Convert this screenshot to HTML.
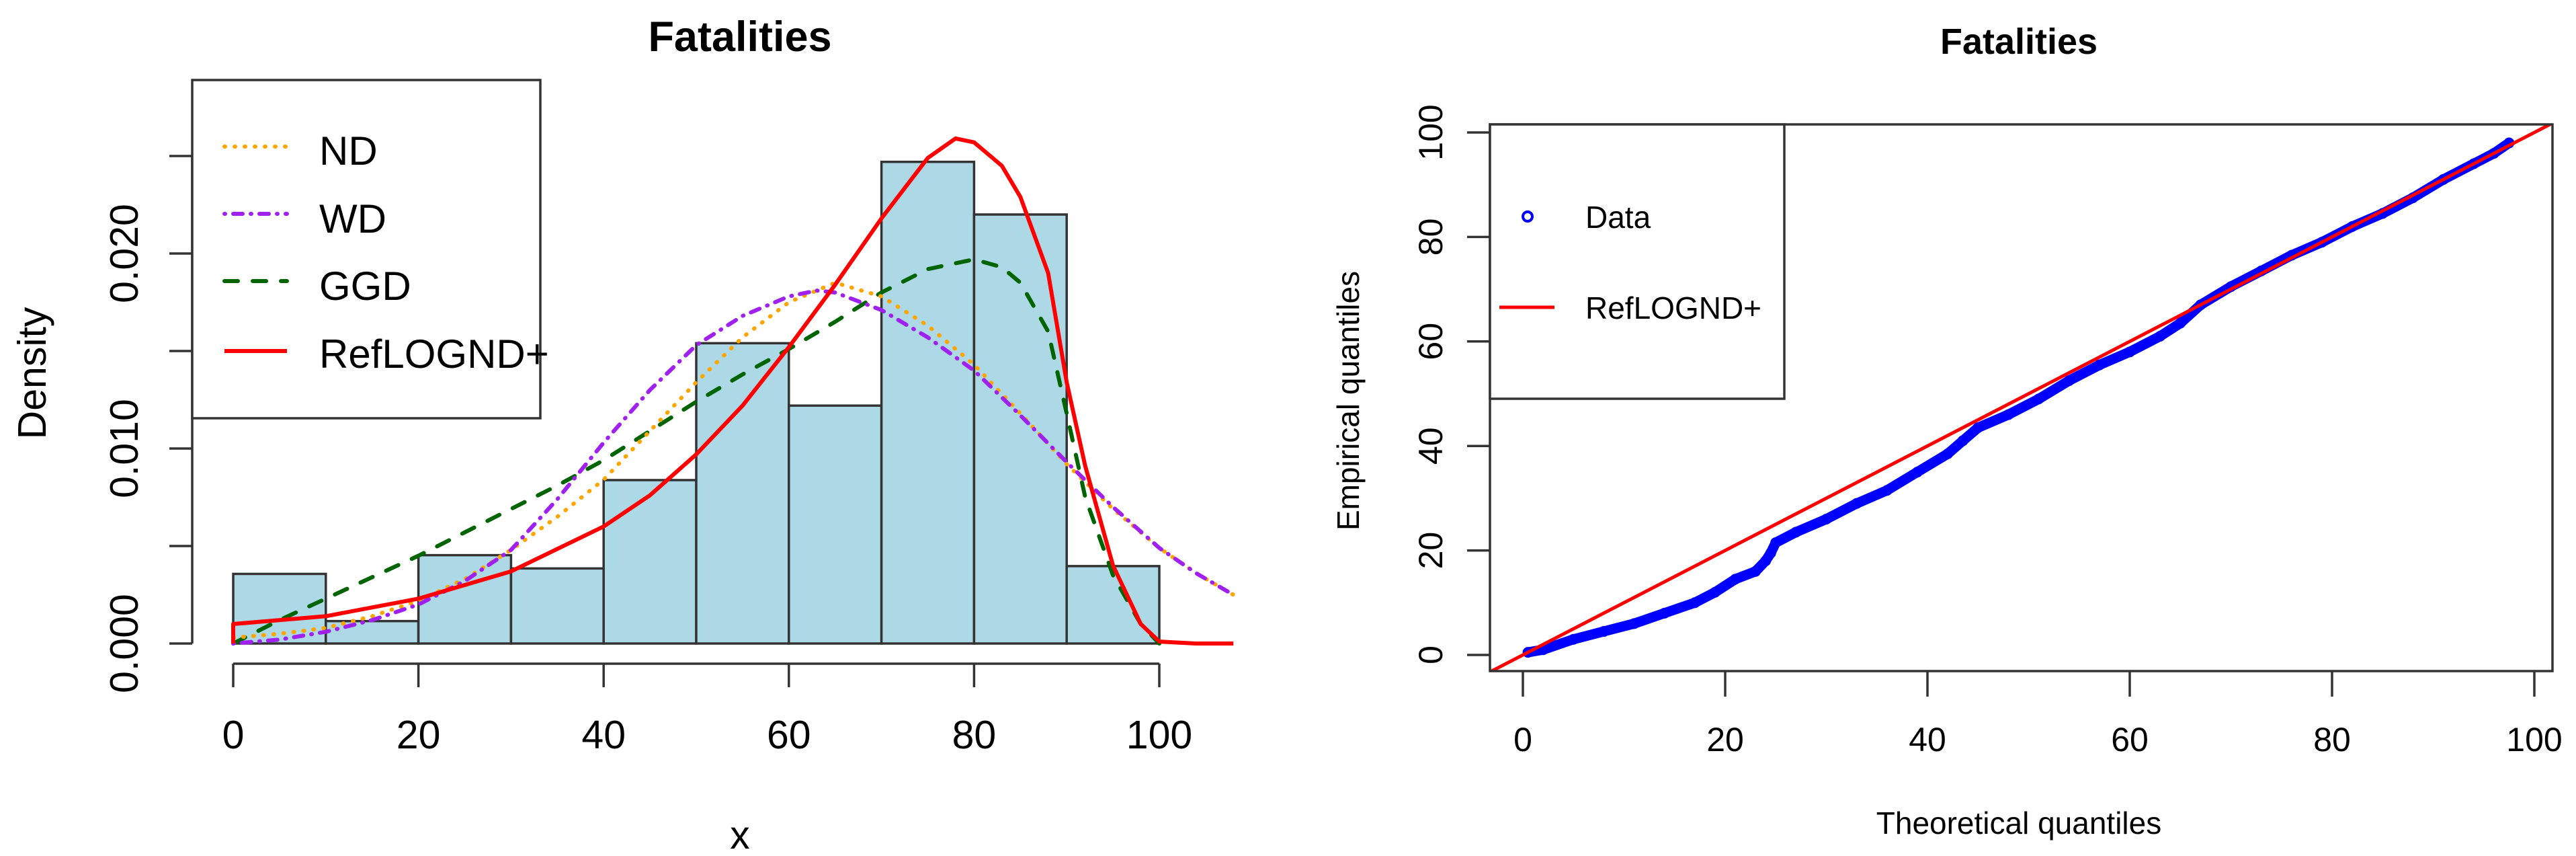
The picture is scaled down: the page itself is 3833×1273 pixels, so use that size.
<!DOCTYPE html>
<html><head><meta charset="utf-8"><style>
html,body{margin:0;padding:0;background:#fff}
svg{display:block}
text{font-family:"Liberation Sans",Arial,sans-serif;fill:#000}
</style></head><body>
<svg id="root" width="3833" height="1273" viewBox="0 0 3833 1273" xmlns="http://www.w3.org/2000/svg">
<g id="left"></g>
<g id="right"></g>
</svg>
<script>
// ---------- Left chart data ----------
const binStarts = [0,10,20,30,40,50,60,70,80,90];
const binDensity = [0.00357,0.00115,0.00453,0.00385,0.00838,0.0154,0.0122,0.0247,0.0220,0.00397];
const xTicks = [0,20,40,60,80,100];
const yTicks = [0,0.005,0.010,0.015,0.020,0.025];
const yTickLabels = ["0.000","","0.010","","0.020",""];
const ndX = [0,5,10,15,20,25,30,35,40,45,50,55,60,65,70,75,80,85,90,95,100,104,108];
const ndY = [0.0003,0.0005,0.0008,0.0014,0.0022,0.0033,0.0048,0.0065,0.0084,0.0109,0.0134,0.0157,0.0175,0.0185,0.0178,0.0163,0.0143,0.0118,0.0092,0.0069,0.0049,0.0036,0.0025];
const wdX = [0,5,10,15,20,25,30,35,40,45,50,55,60,63,65,70,75,80,85,90,95,100,104,108];
const wdY = [0.0,0.0002,0.0006,0.0012,0.0020,0.0032,0.0048,0.0074,0.0103,0.0130,0.0153,0.0168,0.0178,0.0181,0.0180,0.0171,0.0157,0.0140,0.0117,0.0093,0.0070,0.0049,0.0036,0.0025];
const ggdX = [0,5,10,15,20,25,30,35,40,45,50,55,60,65,70,75,80,83,85,88,90,92,95,98,100];
const ggdY = [0.0,0.0012,0.0023,0.0034,0.0045,0.0057,0.0069,0.0081,0.0094,0.0109,0.0124,0.0138,0.0151,0.0165,0.0180,0.0192,0.0197,0.0193,0.0185,0.0160,0.0118,0.0075,0.0035,0.0010,0.0];
const refX = [0,0,10,20,30,40,45,50,55,60,65,70,75,78,80,83,85,88,90,92,95,98,100,104,108];
const refY = [0,0.0010,0.0014,0.0023,0.0037,0.0060,0.0076,0.0097,0.0122,0.0152,0.0184,0.0218,0.0249,0.0259,0.0257,0.0245,0.0229,0.0190,0.0134,0.0091,0.0040,0.0010,0.0001,0,0];
// ---------- Right chart data ----------
const qTheo = [0.5,2,5,8,11,14,17,19,21,23,24,24.5,25,27,30,33,36,39,42,43.5,45,48,51,54,57,60,63,65,67,70,73,76,79,82,85,88,91,94,96,97.5];
const qEmp  = [0.5,1,3,4.5,6,8,10,12,14.5,16,18,19.5,21.5,23.5,26,29,31.5,35,38.5,41,43.5,46,49,52.5,55.5,58,61,63.5,67,70.5,73.5,76.5,79,82,84.5,87.5,91,94,96,98];
const qTicks = [0,20,40,60,80,100];

const NS="http://www.w3.org/2000/svg";
function mk(parent,tag,attrs,text){const e=document.createElementNS(NS,tag);for(const k in attrs)e.setAttribute(k,attrs[k]);if(text!==undefined)e.textContent=text;parent.appendChild(e);return e;}

// ----- Left -----
const L=document.getElementById('left');
const lx=v=>347+v*13.78;
const ly=v=>957-v*29000;
let t;
t=mk(L,'text',{x:1101,y:76,'font-size':63,'font-weight':'bold','text-anchor':'middle'},'Fatalities');


binStarts.forEach((b,i)=>{
  const r=mk(L,'rect',{x:lx(b),y:ly(binDensity[i]),width:lx(b+10)-lx(b),height:ly(0)-ly(binDensity[i]),fill:'#add8e6',stroke:'#333','stroke-width':3.5});
  
  
});
function curve(xs,ys,color,dash,name){
  const d=xs.map((x,i)=>(i?'L':'M')+lx(x).toFixed(1)+','+ly(ys[i]).toFixed(1)).join(' ');
  const p=mk(L,'path',{d:d,fill:'none',stroke:color,'stroke-width':6,'stroke-dasharray':dash,'stroke-linecap':dash==='none'?'butt':'round','stroke-linejoin':'round'});
  
  
}
curve(ggdX,ggdY,'#006400','20 22','ggd-curve');
curve(ndX,ndY,'#ffa500','1 14','nd-curve');
curve(wdX,wdY,'#a020f0','1 12 14 12','wd-curve');
curve(refX,refY,'#ff0000','none','reflognd-curve');
// x axis
t=mk(L,'line',{x1:lx(0),y1:987,x2:lx(100),y2:987,stroke:'#333','stroke-width':3.5});


xTicks.forEach(v=>{
  const tk=mk(L,'line',{x1:lx(v),y1:987,x2:lx(v),y2:1022,stroke:'#333','stroke-width':3.5});
  
  
  const tl=mk(L,'text',{x:lx(v),y:1113,'font-size':59,'text-anchor':'middle'},String(v));
  
  
});
// y axis
t=mk(L,'line',{x1:286,y1:ly(0),x2:286,y2:ly(0.025),stroke:'#333','stroke-width':3.5});


yTicks.forEach((v,i)=>{
  const tk=mk(L,'line',{x1:252,y1:ly(v),x2:286,y2:ly(v),stroke:'#333','stroke-width':3.5});
  
  
  if(yTickLabels[i]){
    const tl=mk(L,'text',{x:0,y:0,'font-size':59,'text-anchor':'middle',transform:`translate(205,${ly(v)}) rotate(-90)`},yTickLabels[i]);
    
    
  }
});
t=mk(L,'text',{x:0,y:0,'font-size':59,'text-anchor':'middle',transform:'translate(68,555) rotate(-90)'},'Density');


t=mk(L,'text',{x:1101,y:1262,'font-size':59,'text-anchor':'middle'},'x');


// legend
const lg=mk(L,'g',{});


mk(lg,'rect',{x:286,y:119,width:518,height:503,fill:'#fff',stroke:'#333','stroke-width':3.5});
const legItems=[['ND','#ffa500','1 14',218,245],['WD','#a020f0','1 12 14 12',318,346],['GGD','#006400','20 22',418,446],['RefLOGND+','#ff0000','none',522,547]];
legItems.forEach(it=>{
  const ln=mk(lg,'line',{x1:334,y1:it[3],x2:427,y2:it[3],stroke:it[1],'stroke-width':6,'stroke-dasharray':it[2],'stroke-linecap':it[2]==='none'?'butt':'round'});
  
  
  const tx=mk(lg,'text',{x:475,y:it[4],'font-size':60},it[0]);
  
  
});

// ----- Right -----
const R=document.getElementById('right');
const rx=v=>2266+v*15.05;
const ry=v=>974-v*7.77;
t=mk(R,'text',{x:3004,y:80,'font-size':54,'font-weight':'bold','text-anchor':'middle'},'Fatalities');


// points
const ptsPath=qTheo.map((x,i)=>(i?'L':'M')+rx(x).toFixed(1)+','+ry(qEmp[i]).toFixed(1)).join(' ');
t=mk(R,'path',{d:ptsPath,fill:'none',stroke:'#0000ff','stroke-width':15,'stroke-linecap':'round','stroke-linejoin':'round'});


qTheo.forEach((x,i)=>{
  const c=mk(R,'circle',{cx:rx(x),cy:ry(qEmp[i]),r:6,fill:'none',stroke:'#0000ff','stroke-width':4});
  
  
});
// clip for ref line
const defs=mk(R,'defs',{});
const cp=mk(defs,'clipPath',{id:'rclip'});
mk(cp,'rect',{x:2217,y:185,width:1581,height:813});
t=mk(R,'line',{x1:rx(-5),y1:ry(-5),x2:rx(105),y2:ry(105),stroke:'#ff0000','stroke-width':5,'clip-path':'url(#rclip)'});


t=mk(R,'rect',{x:2217,y:185,width:1581,height:813,fill:'none',stroke:'#333','stroke-width':3.5});


qTicks.forEach(v=>{
  const tk=mk(R,'line',{x1:rx(v),y1:998,x2:rx(v),y2:1036,stroke:'#333','stroke-width':3.5});
  
  
  const tl=mk(R,'text',{x:rx(v),y:1117,'font-size':50,'text-anchor':'middle'},String(v));
  
  
  const tk2=mk(R,'line',{x1:2183,y1:ry(v),x2:2217,y2:ry(v),stroke:'#333','stroke-width':3.5});
  
  
  const tl2=mk(R,'text',{x:0,y:0,'font-size':50,'text-anchor':'middle',transform:`translate(2146,${ry(v)}) rotate(-90)`},String(v));
  
  
});
t=mk(R,'text',{x:3004,y:1240,'font-size':46,'text-anchor':'middle'},'Theoretical quantiles');


t=mk(R,'text',{x:0,y:0,'font-size':46,'text-anchor':'middle',transform:'translate(2022,596) rotate(-90)'},'Empirical quantiles');


const rl=mk(R,'g',{});


mk(rl,'rect',{x:2217,y:185,width:438,height:408,fill:'#fff',stroke:'#333','stroke-width':3.5});
t=mk(rl,'circle',{cx:2273,cy:322,r:7,fill:'none',stroke:'#0000ff','stroke-width':4});


t=mk(rl,'text',{x:2359,y:339,'font-size':46},'Data');


t=mk(rl,'line',{x1:2231,y1:457,x2:2313,y2:457,stroke:'#ff0000','stroke-width':5});


t=mk(rl,'text',{x:2359,y:474,'font-size':46},'RefLOGND+');


</script>
</body></html>
